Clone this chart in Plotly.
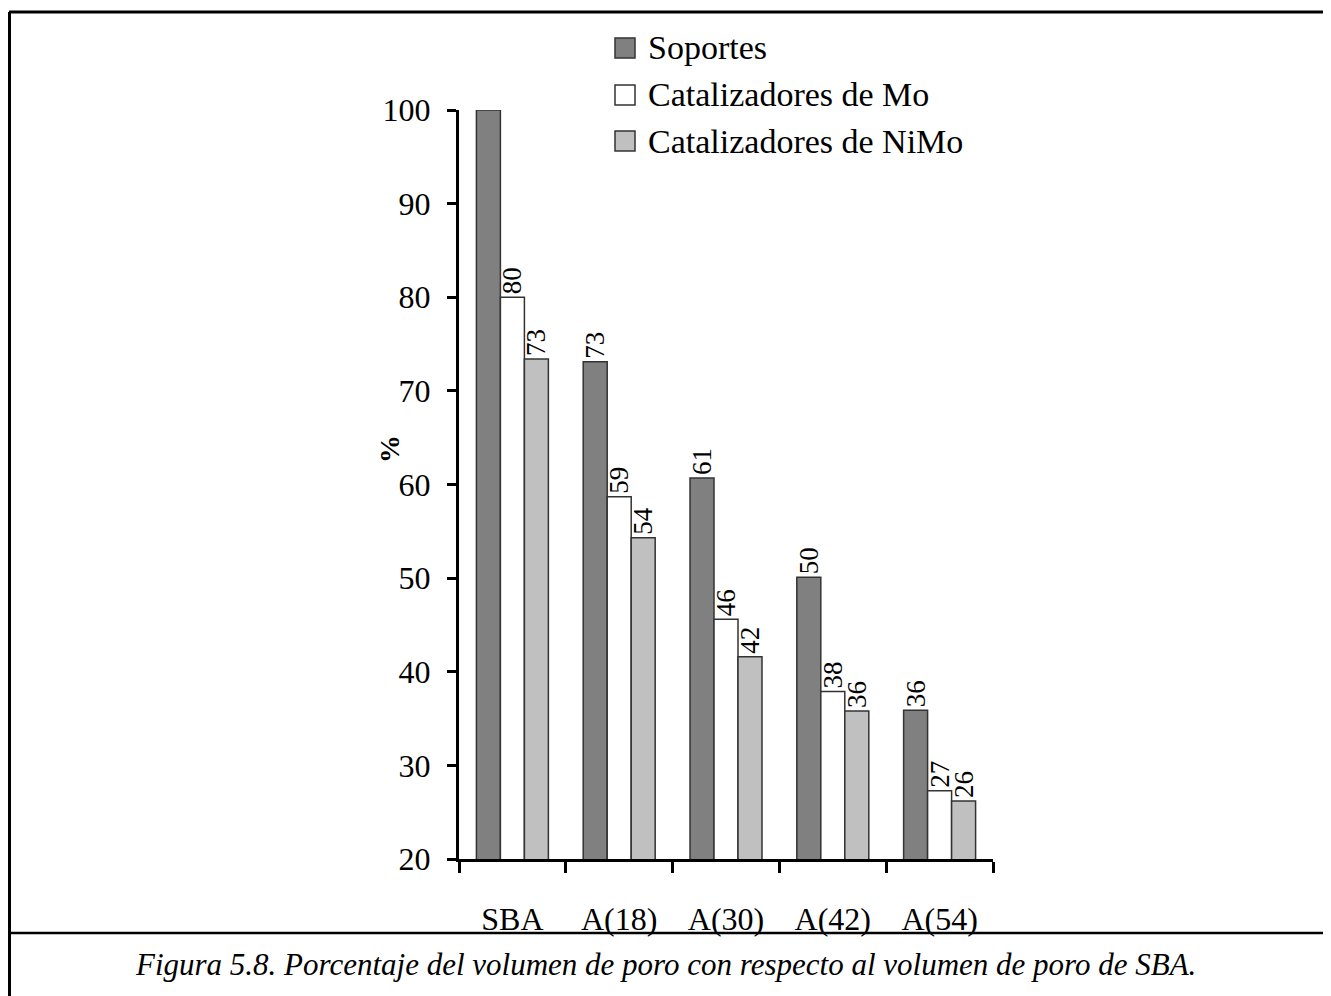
import plotly.graph_objects as go

categories = ["SBA", "A(18)", "A(30)", "A(42)", "A(54)"]
soportes = [100, 73.1, 60.7, 50.1, 35.9]
mo = [80, 58.7, 45.6, 37.9, 27.3]
nimo = [73.4, 54.3, 41.6, 35.8, 26.2]
soportes_labels = ["", "73", "61", "50", "36"]
mo_labels = ["80", "59", "46", "38", "27"]
nimo_labels = ["73", "54", "42", "36", "26"]
series_names = ["Soportes", "Catalizadores de Mo", "Catalizadores de NiMo"]
series_colors = ["#808080", "#ffffff", "#c0c0c0"]

# page offset (browser body margin)
O = 8
W, H = 1331 - O, 996 - O
L, R, T, B = 459 - O, 993 - O, 110 - O, 859 - O
FONT = "Liberation Serif"


def px(x):
    """page pixel x -> paper coordinate"""
    return (x - O - L) / (R - L)


def py(y):
    """page pixel y -> paper coordinate"""
    return (B - (y - O)) / (B - T)


fig = go.Figure()
series = [
    (series_names[0], soportes, soportes_labels, series_colors[0]),
    (series_names[1], mo, mo_labels, series_colors[1]),
    (series_names[2], nimo, nimo_labels, series_colors[2]),
]
for name, vals, labs, col in series:
    fig.add_trace(go.Bar(
        x=categories, y=vals, name=name, text=labs,
        textposition="outside", textangle=-90, constraintext="none",
        cliponaxis=False,
        textfont=dict(family=FONT, size=27, color="black"),
        marker=dict(color=col, line=dict(color="#333333", width=1.5)),
    ))

fig.update_layout(
    width=W, height=H,
    margin=dict(l=L, r=W - R, t=T, b=H - B),
    paper_bgcolor="white", plot_bgcolor="white",
    barmode="group", bargap=0.326, bargroupgap=0,
    font=dict(family=FONT, size=32, color="black"),
    showlegend=False,
)
fig.update_yaxes(range=[20, 100], tickmode="linear", tick0=20, dtick=10,
                 showgrid=False, zeroline=False, showline=True,
                 linecolor="black", linewidth=3, ticks="outside",
                 ticklen=9, tickwidth=3, tickcolor="black", ticklabelstandoff=10,
                 tickfont=dict(family=FONT, size=32, color="black"))
fig.update_xaxes(showgrid=False, showline=True, linecolor="black", linewidth=3,
                 ticks="outside", tickson="boundaries", ticklen=11, tickwidth=3,
                 tickcolor="black", ticklabelstandoff=30,
                 tickfont=dict(family=FONT, size=32, color="black"))

# legend (drawn as swatches + text)
rows = [48, 95, 141]
for name, col, yc in zip(series_names, series_colors, rows):
    fig.add_shape(type="rect", xref="paper", yref="paper",
                  x0=px(615), x1=px(635), y0=py(yc - 10), y1=py(yc + 10),
                  fillcolor=col, line=dict(color="#333333", width=1.5))
    fig.add_annotation(text=name, x=px(646), y=py(yc), xref="paper", yref="paper",
                       showarrow=False, xanchor="left", yanchor="middle",
                       font=dict(family=FONT, size=34, color="black"))

# y-axis title
fig.add_annotation(text="<b>%</b>", x=px(389), y=py(449), xref="paper", yref="paper",
                   showarrow=False, textangle=-90, xanchor="center", yanchor="middle",
                   font=dict(family=FONT, size=28, color="black"))
# caption
fig.add_annotation(
    text="<i>Figura 5.8. Porcentaje del volumen de poro con respecto al volumen de poro de SBA.</i>",
    x=px(665), y=py(965), xref="paper", yref="paper", showarrow=False,
    xanchor="center", yanchor="middle",
    font=dict(family=FONT, size=31, color="black"))

# frame lines
line = dict(color="black", width=3)
fig.add_shape(type="line", xref="paper", yref="paper", x0=px(9), x1=px(1340),
              y0=py(12), y1=py(12), line=line)
fig.add_shape(type="line", xref="paper", yref="paper", x0=px(9.5), x1=px(9.5),
              y0=py(12), y1=py(1000), line=line)
fig.add_shape(type="line", xref="paper", yref="paper", x0=px(9), x1=px(1340),
              y0=py(933), y1=py(933), line=dict(color="black", width=2.5))

fig.write_html("out.html")
